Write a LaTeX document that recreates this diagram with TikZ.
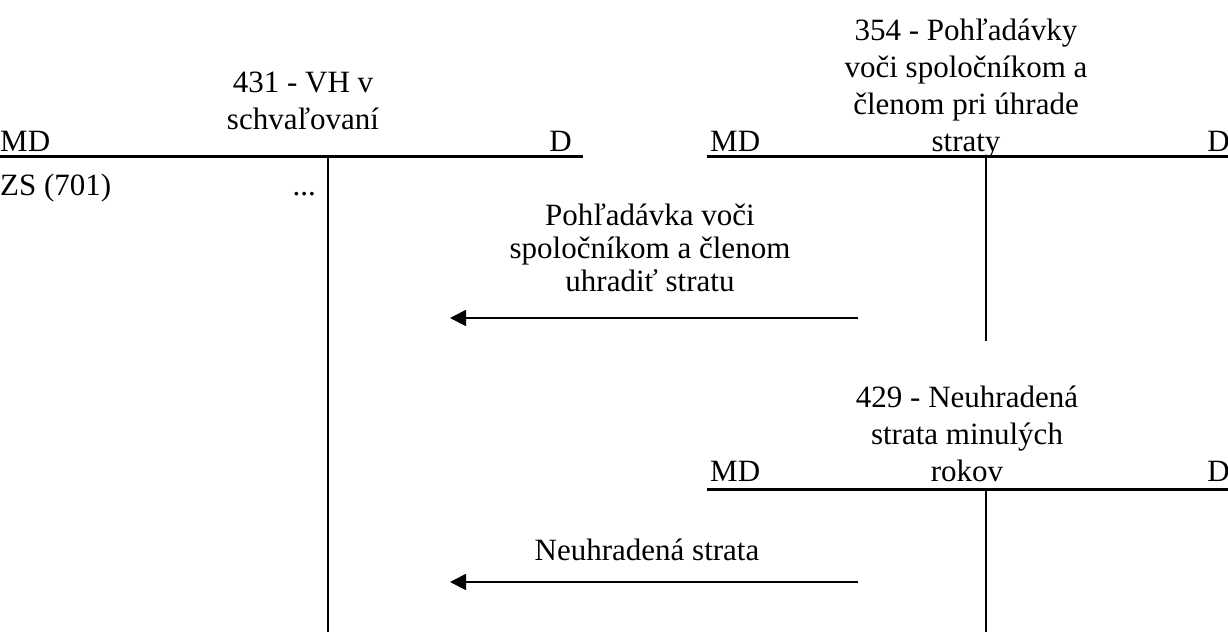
\documentclass[tikz,border=0pt]{standalone}
\usepackage{fontspec}
\setmainfont{Liberation Serif}
\usetikzlibrary{arrows.meta,positioning}

\begin{document}
\begin{tikzpicture}[x=1pt,y=-1pt,
      every node/.style={inner sep=0pt,font=\fontsize{31}{37}\selectfont},
      title/.style={align=center,anchor=base},
      side/.style={anchor=base west},
      sideR/.style={anchor=base east},
      entry/.style={align=center,anchor=base,font=\fontsize{31}{33}\selectfont},
      tline/.style={line width=3pt},
      vline/.style={line width=1.8pt},
      arrow/.style={line width=1.8pt,-{Triangle[length=16pt,width=16pt]}}]
    \useasboundingbox (0,0) rectangle (1228,632);
    % 431 account
    \node[title] (title431) at (303,129) {431 - VH v\\schvaľovaní};
    \node[side] (md431) at (0,151) {MD};
    \node[sideR] (d431) at (572,151) {D};
    \node[side] (zs431) at (0,195) {ZS (701)};
    \node[sideR] (dots431) at (316,195) {...};
    \draw[tline] (0,156) -- (583,156);
    \draw[vline] (328,156) -- (328,632);
    % 354 account
    \node[title] (title354) at (966,151) {354 - Pohľadávky\\voči spoločníkom a\\členom pri úhrade\\straty};
    \node[side] (md354) at (710,151) {MD};
    \node[sideR] (d354) at (1230,151) {D};
    \draw[tline] (707,156) -- (1228,156);
    \draw[vline] (986,156) -- (986,341);
    % 429 account
    \node[title] (title429) at (967,481) {429 - Neuhradená\\strata minulých\\rokov};
    \node[side] (md429) at (710,481) {MD};
    \node[sideR] (d429) at (1230,481) {D};
    \draw[tline] (707,489) -- (1228,489);
    \draw[vline] (986,489) -- (986,632);
    % entries
    \coordinate (pohlFrom) at (858,318);
    \coordinate (pohlTo) at (450,318);
    \coordinate (neuhFrom) at (858,582);
    \coordinate (neuhTo) at (450,582);
    \node[entry] (lblPohl) at (650,291) {Pohľadávka voči\\spoločníkom a členom\\uhradiť stratu};
    \node[entry] (lblNeuh) at (647,560) {Neuhradená strata};
    \draw[arrow] (pohlFrom)--(pohlTo);
    \draw[arrow] (neuhFrom)--(neuhTo);
  \end{tikzpicture}
\end{document}
